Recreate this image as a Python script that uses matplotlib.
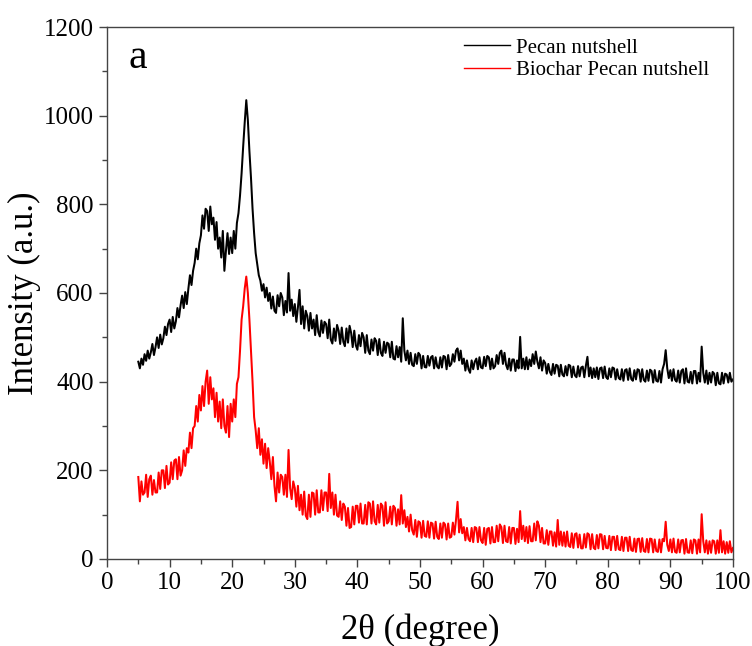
import numpy as np
import matplotlib
matplotlib.use("Agg")
import matplotlib.pyplot as plt

plt.rcParams['font.family'] = ['Liberation Serif', 'DejaVu Serif']

# 2theta grid of the digitised pattern (0.25 degree steps, 5..100)
two_theta = np.arange(5, 100.001, 0.25)

# Pecan nutshell (raw)
pecan = [
    445, 430, 452, 438, 462, 447, 470, 452, 466, 485, 460, 478, 500, 476, 506, 484, 498, 524, 505, 530,
    540, 512, 546, 520, 536, 566, 545, 572, 594, 566, 602, 575, 610, 640, 618, 650, 668, 700, 676, 712,
    730, 775, 745, 790, 785, 740, 795, 755, 770, 720, 760, 700, 725, 680, 740, 650, 695, 735, 688, 725,
    690, 740, 700, 758, 780, 820, 870, 930, 985, 1035, 990, 920, 860, 790, 735, 690, 665, 640, 628, 605,
    620, 590, 612, 582, 600, 565, 592, 560, 555, 595, 570, 600, 590, 550, 582, 556, 645, 560, 585, 548,
    575, 535, 568, 607, 530, 570, 520, 560, 548, 515, 555, 520, 540, 505, 550, 512, 502, 538, 510, 535,
    530, 498, 540, 495, 486, 520, 492, 528, 515, 485, 522, 490, 480, 520, 488, 526, 510, 478, 515, 482,
    472, 505, 480, 510, 500, 465, 505, 470, 462, 495, 470, 498, 492, 460, 496, 465, 458, 490, 465, 488,
    485, 455, 490, 452, 450, 480, 455, 478, 445, 543, 470, 448, 470, 440, 465, 438, 435, 462, 440, 465,
    460, 430, 458, 433, 432, 458, 436, 455, 458, 430, 455, 434, 430, 455, 432, 458, 456, 428, 460, 435,
    440, 462, 445, 470, 475, 448, 470, 440, 452, 425, 448, 428, 420, 448, 428, 445, 452, 428, 455, 432,
    430, 456, 435, 458, 455, 428, 452, 430, 435, 460, 440, 465, 470, 440, 465, 438, 428, 452, 425, 450,
    450, 424, 448, 430, 501, 430, 452, 428, 455, 428, 450, 435, 462, 440, 468, 445, 430, 455, 425, 448,
    442, 418, 440, 422, 415, 440, 418, 438, 436, 412, 438, 416, 412, 435, 414, 438, 436, 410, 434, 414,
    410, 435, 412, 432, 434, 410, 436, 456, 412, 432, 408, 430, 410, 432, 406, 430, 432, 408, 434, 410,
    406, 430, 410, 432, 430, 405, 428, 408, 405, 428, 402, 426, 428, 404, 430, 406, 402, 426, 405, 428,
    426, 400, 428, 404, 400, 425, 402, 427, 424, 398, 426, 402, 400, 424, 398, 428, 440, 471, 430, 408,
    426, 402, 428, 404, 400, 425, 398, 424, 428, 396, 430, 400, 398, 422, 396, 424, 424, 396, 420, 400,
    479, 420, 398, 425, 395, 420, 398, 422, 418, 392, 420, 396, 394, 420, 396, 418, 416, 398, 420, 400,
    405,
]

# Biochar pecan nutshell
biochar = [
    185, 130, 175, 145, 150, 190, 140, 180, 188, 145, 178, 150, 150, 195, 158, 200, 200, 160, 210, 168,
    172, 218, 180, 222, 225, 180, 230, 188, 200, 245, 210, 250, 240, 285, 250, 295, 300, 345, 310, 370,
    335, 390, 345, 400, 425, 350, 410, 360, 385, 320, 375, 310, 355, 295, 360, 300, 285, 345, 275, 350,
    310, 360, 320, 395, 410, 470, 540, 570, 610, 637, 600, 540, 470, 400, 320, 290, 250, 295, 235, 270,
    215, 260, 205, 250, 220, 180, 230, 165, 130, 195, 150, 190, 185, 145, 190, 140, 246, 160, 135, 175,
    160, 118, 165, 110, 145, 100, 152, 98, 90, 145, 95, 150, 148, 100, 155, 105, 105, 155, 110, 150,
    150, 108, 192, 115, 150, 100, 145, 98, 95, 130, 88, 125, 118, 75, 115, 70, 72, 118, 78, 120,
    120, 82, 125, 80, 80, 122, 78, 128, 125, 80, 130, 85, 78, 122, 82, 125, 120, 75, 128, 80,
    85, 118, 78, 120, 115, 75, 112, 78, 144, 80, 110, 72, 95, 62, 100, 65, 55, 88, 50, 85,
    82, 48, 86, 52, 50, 85, 48, 82, 80, 46, 84, 50, 45, 80, 48, 82, 78, 44, 80, 48,
    50, 82, 55, 88, 129, 60, 90, 58, 72, 42, 70, 45, 40, 70, 38, 72, 70, 38, 72, 42,
    36, 70, 32, 68, 70, 35, 72, 38, 38, 75, 40, 78, 72, 36, 75, 40, 38, 72, 35, 70,
    70, 34, 68, 38, 108, 45, 75, 40, 72, 36, 74, 40, 40, 80, 42, 85, 75, 38, 70, 35,
    35, 65, 32, 62, 62, 30, 60, 28, 88, 32, 62, 30, 60, 28, 62, 30, 27, 58, 25, 56,
    58, 26, 55, 24, 24, 56, 26, 58, 55, 22, 56, 25, 22, 54, 24, 56, 55, 22, 52, 25,
    24, 52, 20, 50, 50, 20, 52, 22, 20, 50, 18, 48, 48, 18, 50, 20, 18, 46, 16, 45,
    46, 16, 47, 18, 16, 45, 15, 46, 45, 15, 44, 18, 16, 44, 15, 45, 40, 84, 32, 18,
    44, 15, 46, 16, 14, 44, 15, 42, 43, 12, 45, 15, 14, 42, 13, 44, 42, 12, 44, 15,
    101, 40, 15, 42, 12, 40, 14, 42, 40, 12, 42, 14, 65, 15, 40, 12, 38, 14, 40, 15,
    25,
]

fig = plt.figure(figsize=(7.52, 6.46), dpi=100)
ax = fig.add_axes([0.1423, 0.1347, 0.8324, 0.8235])

ax.plot(two_theta, pecan, color='black', lw=1.45, label='Pecan nutshell')
ax.plot(two_theta, biochar, color='red', lw=1.45, label='Biochar Pecan nutshell')

ax.set_xlim(0, 100)
ax.set_ylim(0, 1200)
ax.set_xticks(np.arange(0, 101, 10))
ax.set_xticks(np.arange(5, 100, 10), minor=True)
ax.set_yticks(np.arange(0, 1201, 200))
ax.set_yticks(np.arange(100, 1200, 200), minor=True)

for s in ax.spines.values():
    s.set_color('#444444')
    s.set_linewidth(1.0)
ax.tick_params(which='major', direction='out', length=6, width=1, colors='#444444',
               labelcolor='black', labelsize=18)
ax.tick_params(which='minor', direction='out', length=3.3, width=1, colors='#444444')

ax.set_xlabel('2θ (degree)', fontsize=25, labelpad=14)
ax.set_ylabel('Intensity (a.u.)', fontsize=25, labelpad=2)

ax.text(0.05, 0.942, 'a', transform=ax.transAxes, fontsize=30, ha='center', va='center')

leg = ax.legend(loc='upper left', bbox_to_anchor=(0.570, 0.979), frameon=False, fontsize=15,
                borderpad=0, borderaxespad=0, handlelength=2.2, handletextpad=0.3,
                labelspacing=0.15)
for line in leg.get_lines():
    line.set_linewidth(1.0)

plt.savefig('out.png', dpi=100)
